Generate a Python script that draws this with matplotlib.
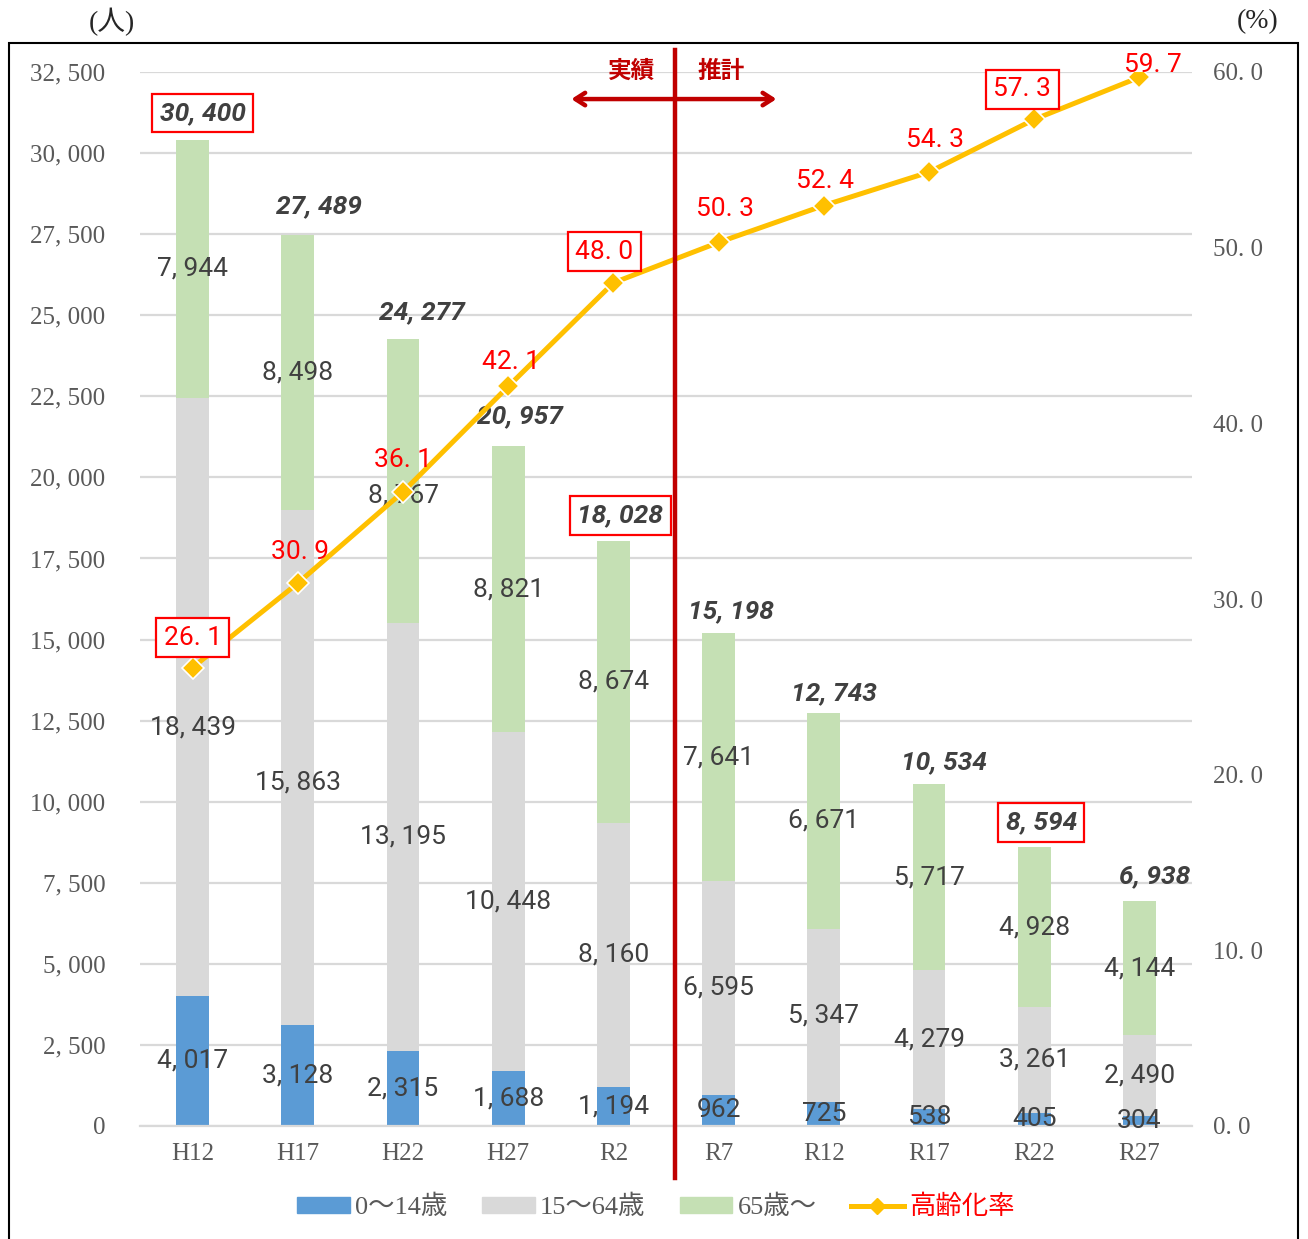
import matplotlib
matplotlib.use("Agg")
import matplotlib.pyplot as plt
from matplotlib.patches import Patch, Rectangle
from matplotlib.lines import Line2D
import numpy as np

# ---------------- data ----------------
categories = ["H12", "H17", "H22", "H27", "R2", "R7", "R12", "R17", "R22", "R27"]
age_0_14 = [4017, 3128, 2315, 1688, 1194, 962, 725, 538, 405, 304]
age_15_64 = [18439, 15863, 13195, 10448, 8160, 6595, 5347, 4279, 3261, 2490]
age_65 = [7944, 8498, 8767, 8821, 8674, 7641, 6671, 5717, 4928, 4144]
totals = [30400, 27489, 24277, 20957, 18028, 15198, 12743, 10534, 8594, 6938]
aging_rate = [26.1, 30.9, 36.1, 42.1, 48.0, 50.3, 52.4, 54.3, 57.3, 59.7]
boxed_totals = ["H12", "R2", "R22"]
boxed_rates = ["H12", "R2", "R22"]
left_ticks = [0, 2500, 5000, 7500, 10000, 12500, 15000, 17500, 20000, 22500, 25000, 27500, 30000, 32500]
right_ticks = [0, 10, 20, 30, 40, 50, 60]
series_names = ["0〜14歳", "15〜64歳", "65歳〜", "高齢化率"]
divider_after = "R2"

# ---------------- style ----------------
C_BLUE = "#5B9BD5"
C_GRAY = "#D9D9D9"
C_GREEN = "#C5E0B4"
C_GOLD = "#FFC000"
C_DARK = "#404040"
C_TICK = "#595959"
C_RED = "#FF0000"
C_DRED = "#C00000"

SERIF = ["Liberation Serif", "Noto Sans CJK JP"]
COND = ["Liberation Sans Narrow", "Roboto", "DejaVu Sans"]
JP = ["Noto Sans CJK JP", "DejaVu Sans"]


def jfmt(n):
    return f"{n:,}".replace(",", ", ")


def pfmt(v):
    return f"{v:.1f}".replace(".", ". ")


fig = plt.figure(figsize=(13.08, 12.39), dpi=100)
W, H = 1308, 1239
ax = fig.add_axes([140 / W, 113 / H, 1052 / W, (1126 - 72) / H])
ax2 = ax.twinx()

x = np.arange(len(categories))
bw = 0.31
a = np.array(age_0_14)
b = np.array(age_15_64)
c = np.array(age_65)

ax.bar(x, a, bw, color=C_BLUE, zorder=2)
ax.bar(x, b, bw, bottom=a, color=C_GRAY, zorder=2)
ax.bar(x, c, bw, bottom=a + b, color=C_GREEN, zorder=2)

ax.set_xlim(-0.5, len(categories) - 0.5)
ax.set_ylim(0, 32500)
ax.set_yticks(left_ticks)
ax.set_yticklabels([jfmt(t) for t in left_ticks], family=SERIF, fontsize=18, color=C_TICK)
ax.set_xticks(x)
ax.set_xticklabels(categories, family=SERIF, fontsize=18, color=C_TICK)
ax.tick_params(axis="y", length=0, pad=25)
ax.tick_params(axis="x", length=0, pad=12)
ax.grid(axis="y", color=C_GRAY, lw=1.6, zorder=0)
ax.set_axisbelow(True)
for s in ["top", "left", "right"]:
    ax.spines[s].set_visible(False)
ax.spines["bottom"].set_color(C_GRAY)
ax.spines["bottom"].set_linewidth(1.6)

ax2.set_ylim(0, 60)
ax2.set_yticks(right_ticks)
ax2.set_yticklabels([pfmt(t) for t in right_ticks], family=SERIF, fontsize=18, color=C_TICK)
ax2.tick_params(axis="y", length=0, pad=15)
for s in ax2.spines.values():
    s.set_visible(False)

# segment labels (small nudges where the line overlaps)
nudge_gray = {"H12": -950, "H17": -460}
nudge_green = {"H22": -460}
for i, cat in enumerate(categories):
    ax.text(x[i], a[i] / 2, jfmt(a[i]), ha="center", va="center",
            family=COND, fontsize=19, color=C_DARK, zorder=5)
    ax.text(x[i], a[i] + b[i] / 2 + nudge_gray.get(cat, 0), jfmt(b[i]), ha="center", va="center",
            family=COND, fontsize=19, color=C_DARK, zorder=5)
    ax.text(x[i], a[i] + b[i] + c[i] / 2 + nudge_green.get(cat, 0), jfmt(c[i]), ha="center", va="center",
            family=COND, fontsize=19, color=C_DARK, zorder=5)

# line on secondary axis
ax2.plot(x, aging_rate, color=C_GOLD, lw=3.6, marker="D", markersize=11,
         markerfacecolor=C_GOLD, markeredgecolor="white", markeredgewidth=1.2, zorder=4)

# total labels (offsets in px)
tot_off = [(10, 27), (21, 28), (19, 26), (12, 30), (7, 26), (12, 22), (10, 19), (15, 22), (7, 25), (15, 25)]
for i, cat in enumerate(categories):
    dx, dy = tot_off[i]
    bbox = None
    if cat in boxed_totals:
        bbox = dict(boxstyle="square,pad=0.28", fc="white", ec=C_RED, lw=1.6)
    ax.annotate(jfmt(totals[i]), xy=(x[i], totals[i]), xytext=(dx * 0.72, dy * 0.72),
                textcoords="offset points", ha="center", va="center",
                family=COND, fontsize=19, fontweight="bold", fontstyle="italic",
                color=C_DARK, bbox=bbox, zorder=6, annotation_clip=False)

# rate labels
rate_off = [(0, 30), (2, 31), (0, 32), (3, 24), (-9, 31), (6, 33), (1, 25), (6, 32), (-12, 30), (13, 12)]
for i, cat in enumerate(categories):
    dx, dy = rate_off[i]
    bbox = None
    if cat in boxed_rates:
        bbox = dict(boxstyle="square,pad=0.28", fc="white", ec=C_RED, lw=1.6)
    ax2.annotate(pfmt(aging_rate[i]), xy=(x[i], aging_rate[i]), xytext=(dx * 0.72, dy * 0.72),
                 textcoords="offset points", ha="center", va="center",
                 family=COND, fontsize=19, color=C_RED, bbox=bbox, zorder=6,
                 annotation_clip=False)

# divider between actual and projection
xd = categories.index(divider_after) + 0.59
ax2.plot([xd, xd], [-2.96, 61.25], color=C_DRED, lw=3.2, clip_on=False, zorder=7)
ax2.annotate("", xy=(xd - 0.99, 58.46), xytext=(xd + 0.96, 58.46),
             arrowprops=dict(arrowstyle="<->,head_length=0.7,head_width=0.45",
                             color=C_DRED, lw=3.2, shrinkA=0, shrinkB=0),
             annotation_clip=False, zorder=7)
ax2.text(xd - 0.42, 60.05, "実績", ha="center", va="center", family=JP, fontsize=17,
         fontweight="bold", color=C_DRED, zorder=7)
ax2.text(xd + 0.43, 60.05, "推計", ha="center", va="center", family=JP, fontsize=17,
         fontweight="bold", color=C_DRED, zorder=7)

# axis unit labels
fig.text(112 / W, 1 - 22 / H, "(人)", ha="center", va="center", family=SERIF, fontsize=20, color="#262626")
fig.text(1258 / W, 1 - 22 / H, "(%)", ha="center", va="center", family=SERIF, fontsize=20, color="#262626")

# outer frame
fig.patches.append(Rectangle((9 / W, -0.01), (1298 - 9) / W, (1239 - 43) / H + 0.01,
                             transform=fig.transFigure, fill=False, ec="black", lw=1.5))

# legend
handles = [Patch(color=C_BLUE), Patch(color=C_GRAY), Patch(color=C_GREEN),
           Line2D([0], [0], color=C_GOLD, lw=3.6, marker="D", markersize=8,
                  markerfacecolor=C_GOLD, markeredgecolor=C_GOLD)]
leg = fig.legend(handles, series_names, loc="center", bbox_to_anchor=(656 / W, 1 - 1207 / H),
                 ncol=4, frameon=False, prop={"family": SERIF, "size": 19},
                 handlelength=2.0, handleheight=0.55, handletextpad=0.2, columnspacing=1.3)
for t, col in zip(leg.get_texts(), [C_TICK, C_TICK, C_TICK, C_RED]):
    t.set_color(col)

fig.savefig("out.png", dpi=100)
